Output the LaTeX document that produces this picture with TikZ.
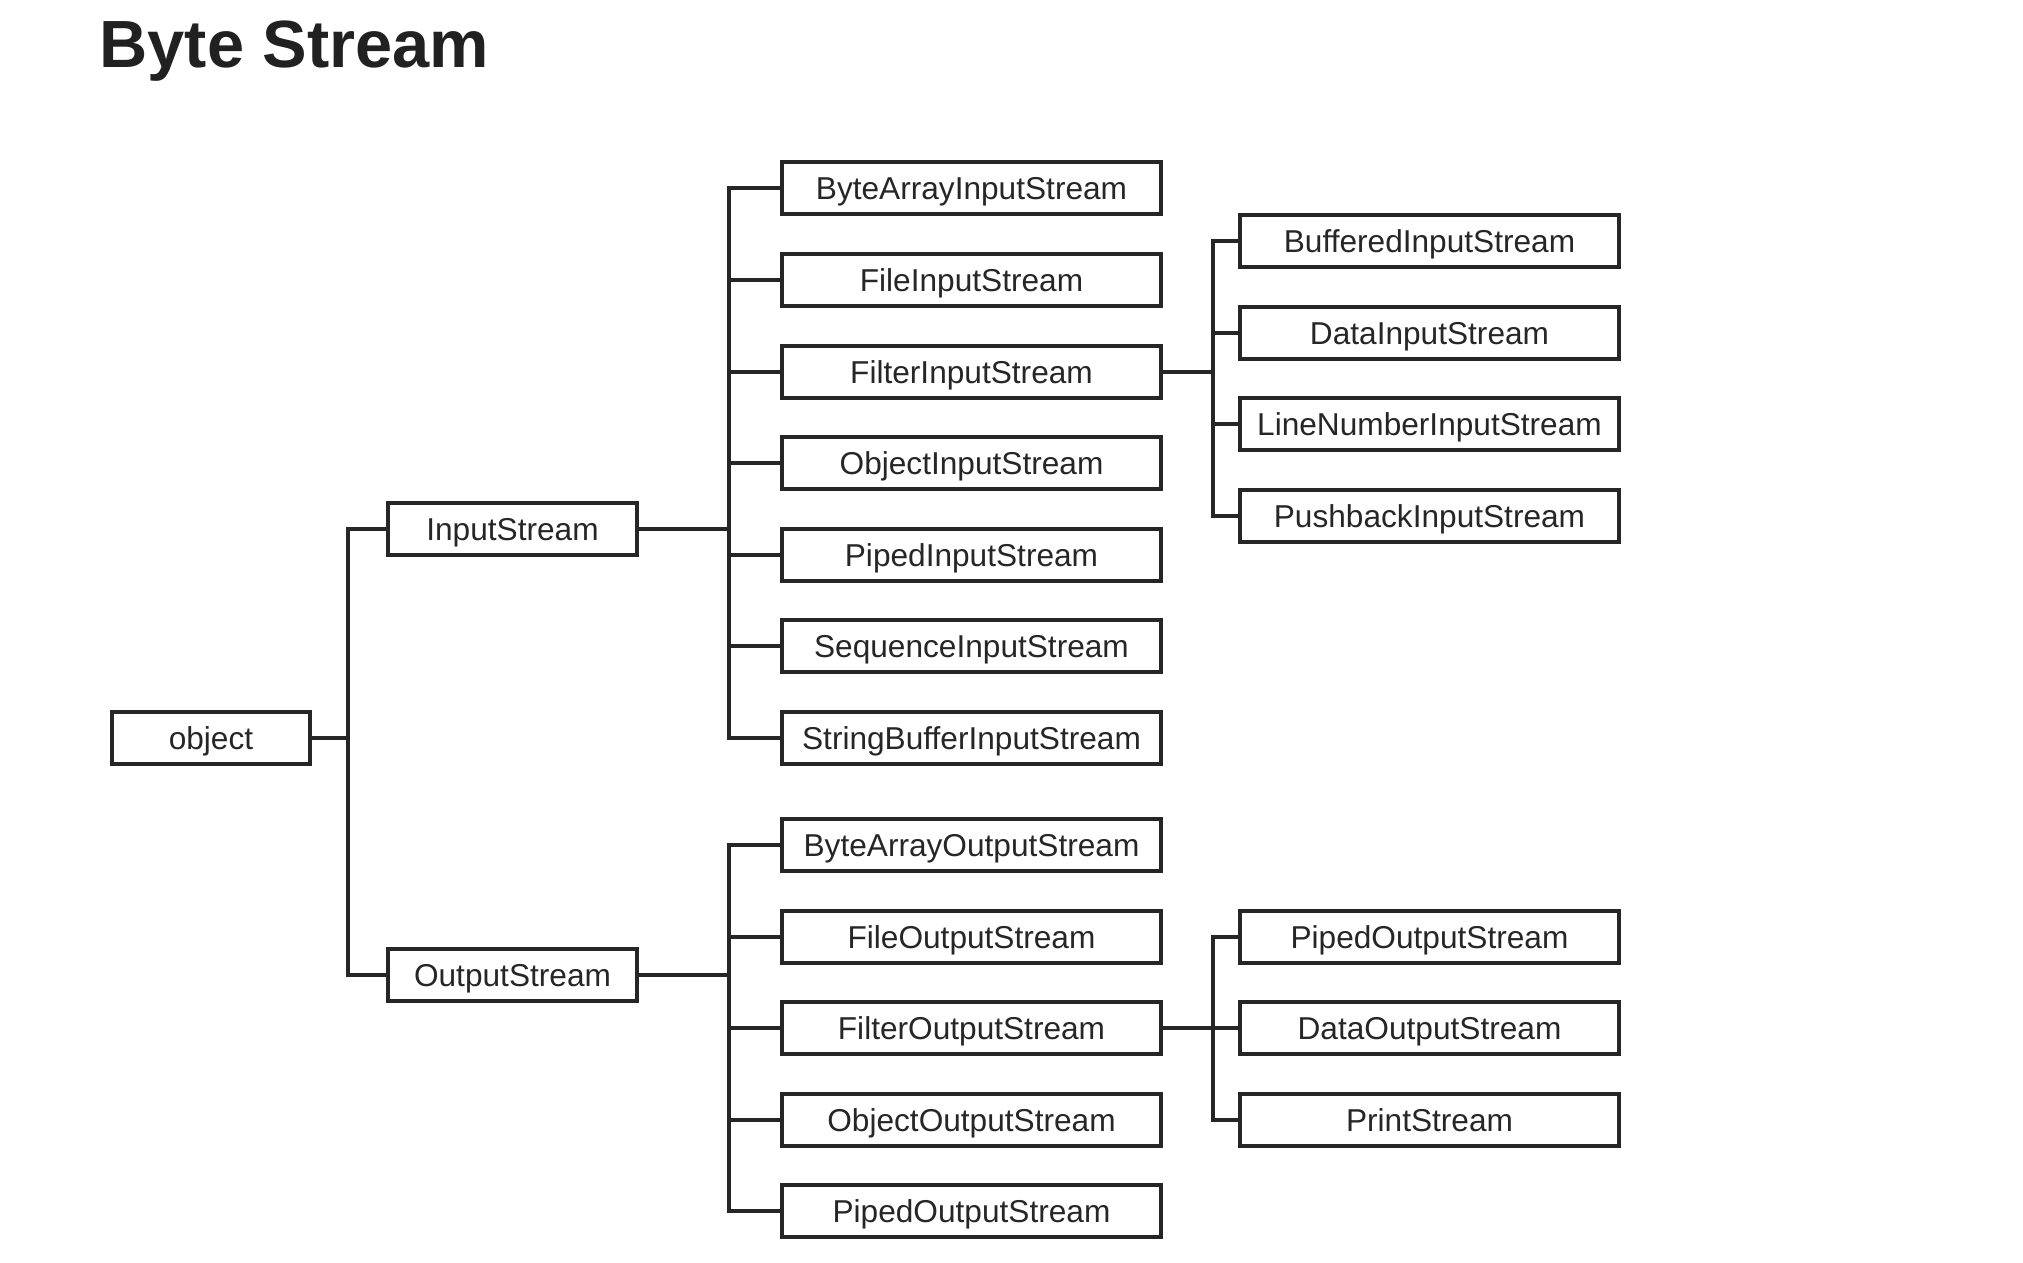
\documentclass[tikz,border=0pt]{standalone}
\usepackage{fontspec}
\setmainfont{Liberation Sans}
\begin{document}
\begin{tikzpicture}[x=0.1mm,y=-0.1mm,line width=0.9pt,
    box/.style={draw=black!85,minimum height=5.2mm,inner sep=0pt,
      text height=2.25mm,text depth=0mm,
      font=\fontsize{9}{10}\selectfont,text=black!85},
    col/.style={box,minimum width=37.9mm}]
  \useasboundingbox (0,0) rectangle (2023,1263);

  % Title
  \node[anchor=base west,inner sep=0pt,text=black!87,
    font=\fontsize{19}{22}\selectfont\bfseries] (title) at (98,67) {Byte Stream};

  % Nodes
  \node[box,minimum width=19.8mm] (obj) at (211,738) {object};
  \node[box,minimum width=24.9mm] (in) at (512.5,529) {InputStream};
  \node[box,minimum width=24.9mm] (out) at (512.5,975) {OutputStream};

  \foreach \i/\y/\txt in {1/188/ByteArrayInputStream, 2/280/FileInputStream,
      3/372/FilterInputStream, 4/463/ObjectInputStream, 5/555/PipedInputStream,
      6/646/SequenceInputStream, 7/738/StringBufferInputStream}
    \node[col] (I\i) at (971.5,\y) {\txt};

  \foreach \i/\y/\txt in {1/241/BufferedInputStream, 2/333/DataInputStream,
      3/424/LineNumberInputStream, 4/516/PushbackInputStream}
    \node[col] (F\i) at (1429.5,\y) {\txt};

  \foreach \i/\y/\txt in {1/845/ByteArrayOutputStream, 2/937/FileOutputStream,
      3/1028/FilterOutputStream, 4/1120/ObjectOutputStream, 5/1211/PipedOutputStream}
    \node[col] (O\i) at (971.5,\y) {\txt};

  \foreach \i/\y/\txt in {1/937/PipedOutputStream, 2/1028/DataOutputStream,
      3/1120/PrintStream}
    \node[col] (G\i) at (1429.5,\y) {\txt};

  % Lines
  \begin{scope}[draw=black!85]
    \coordinate (tobj) at (348,738);
    \coordinate (tin) at (729,529);
    \coordinate (tout) at (729,975);
    \coordinate (tfin) at (1213,372);
    \coordinate (tfout) at (1213,1028);

    \draw (obj.east) -- (tobj);
    \draw (tobj) |- (in.west);
    \draw (tobj) |- (out.west);

    \draw (in.east) -- (tin);
    \foreach \i in {1,...,7}
      \draw (tin) |- (I\i.west);

    \draw (I3.east) -- (tfin);
    \foreach \i in {1,...,4}
      \draw (tfin) |- (F\i.west);

    \draw (out.east) -- (tout);
    \foreach \i in {1,...,5}
      \draw (tout) |- (O\i.west);

    \draw (O3.east) -- (tfout);
    \foreach \i in {1,...,3}
      \draw (tfout) |- (G\i.west);
  \end{scope}
\end{tikzpicture}
\end{document}
